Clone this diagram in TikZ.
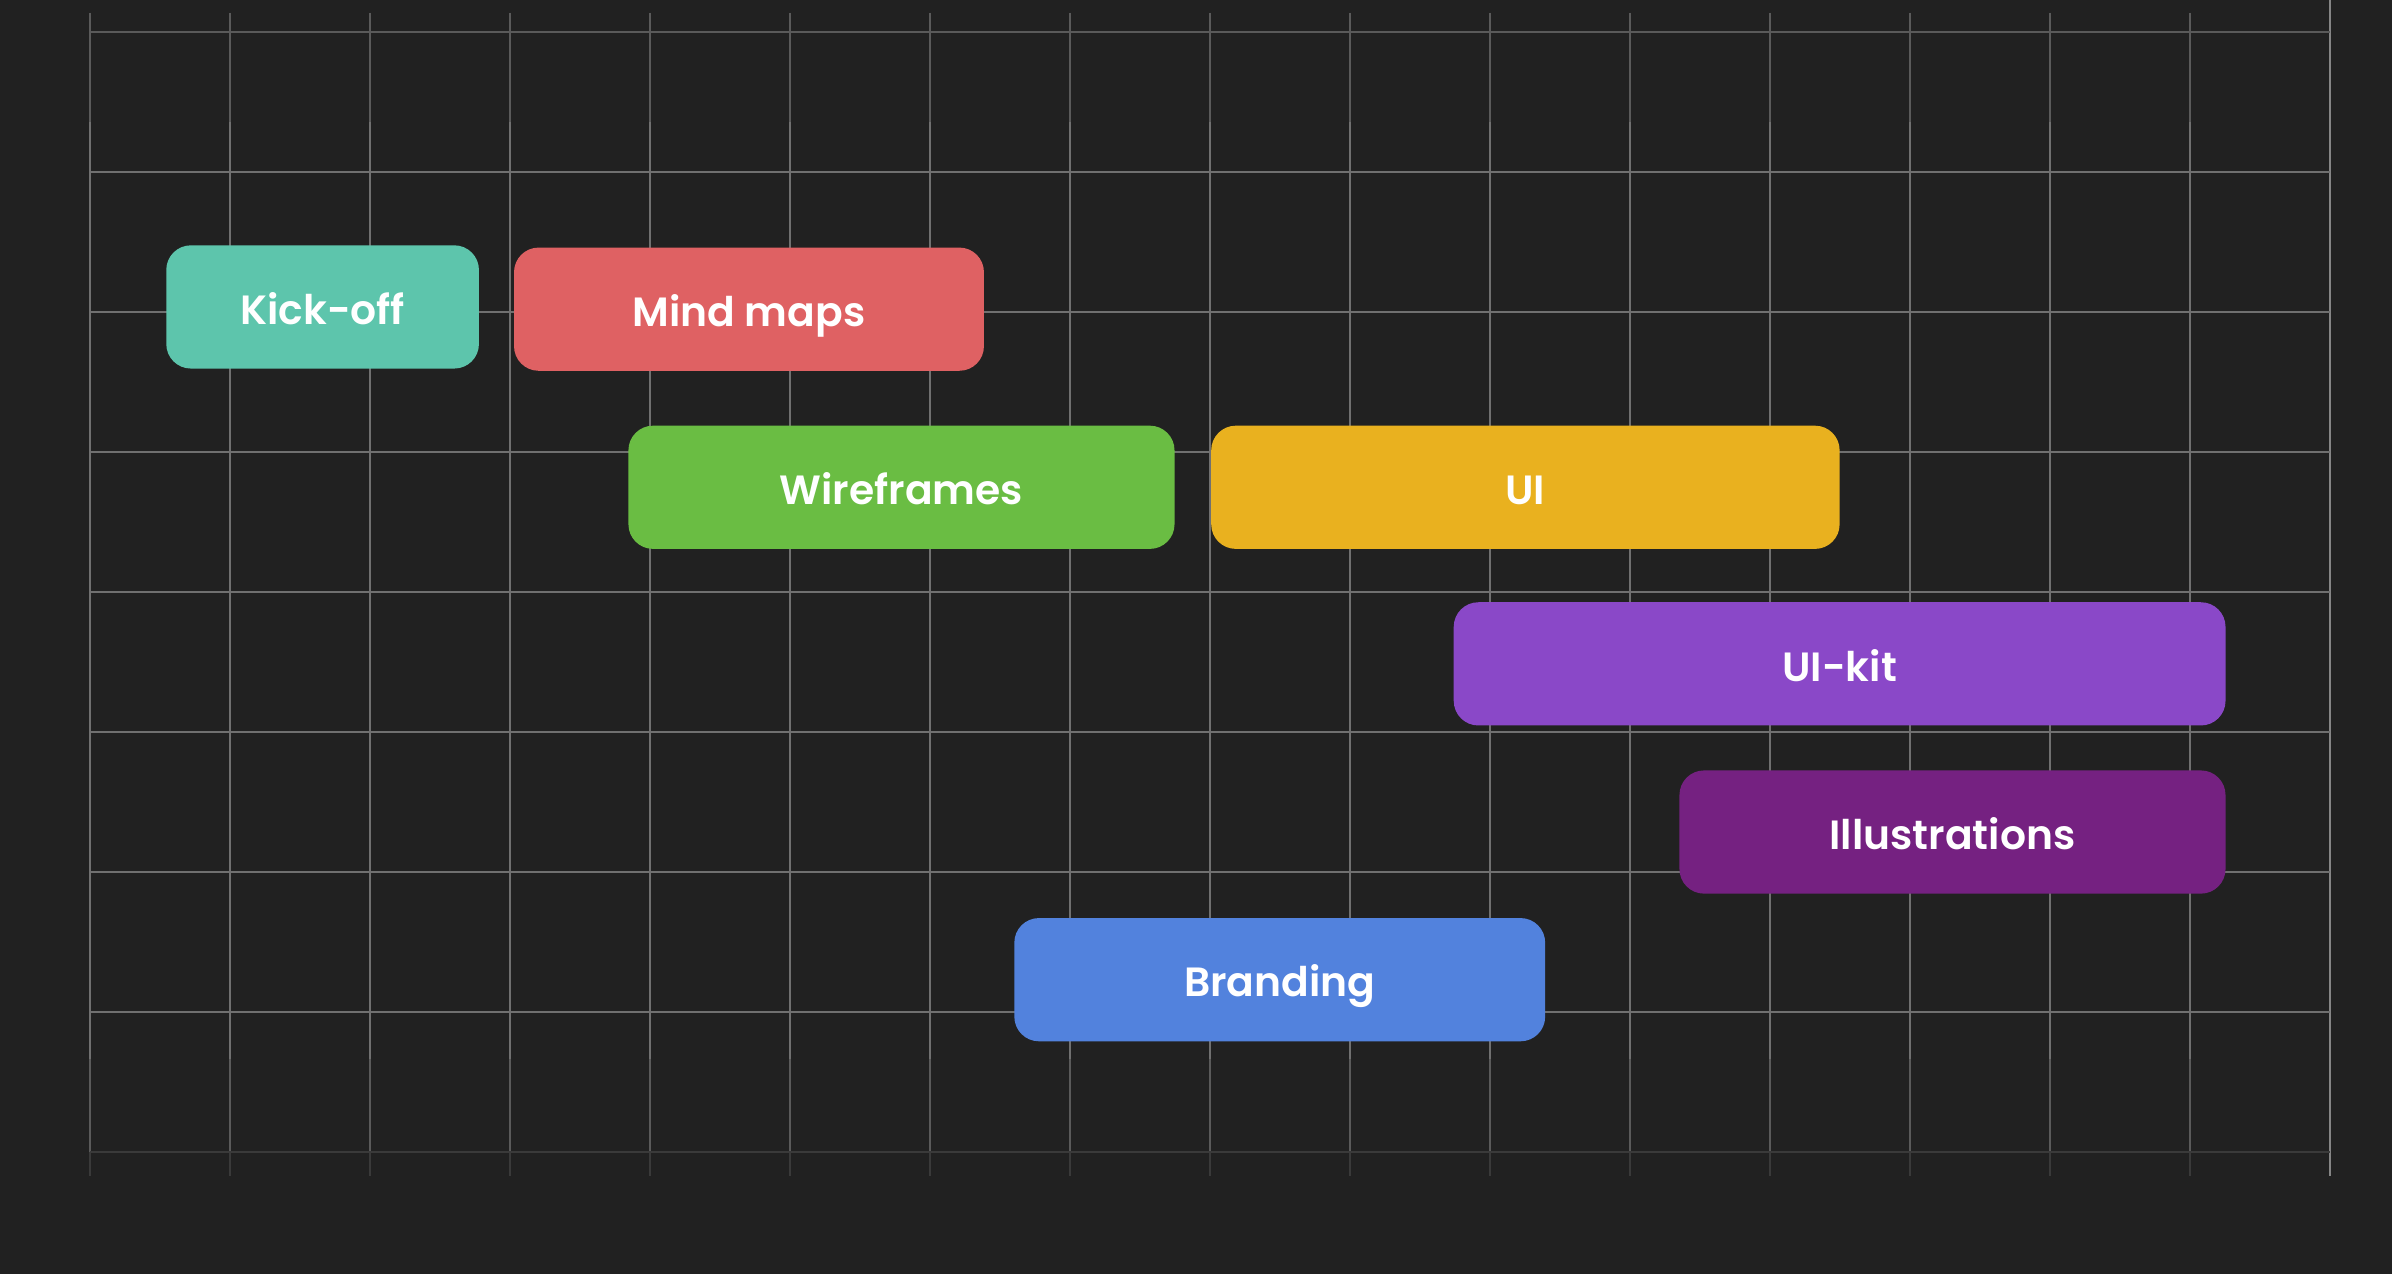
\documentclass[tikz,border=0pt]{standalone}
\usepackage{fontspec}
\setmainfont{Poppins}[BoldFont={Poppins SemiBold}]
\usepackage{tikz}
\usetikzlibrary{positioning}
\definecolor{BoardBg}{RGB}{33, 33, 33}
\definecolor{GridGray}{RGB}{112, 112, 112}
\definecolor{GridSoft}{RGB}{90, 90, 90}
\definecolor{GridFaint}{RGB}{58, 58, 58}
\definecolor{KickTeal}{RGB}{93, 197, 172}
\definecolor{MindRed}{RGB}{223, 97, 99}
\definecolor{WireGreen}{RGB}{106, 189, 67}
\definecolor{UiYellow}{RGB}{233, 177, 31}
\definecolor{KitPurple}{RGB}{138, 72, 200}
\definecolor{IllPlum}{RGB}{117, 33, 129}
\definecolor{BrandBlue}{RGB}{82, 130, 221}

\begin{document}
\begin{tikzpicture}[
    gridline/.style={draw=GridGray, line width=0.4pt},
    gridsoft/.style={draw=GridSoft, line width=0.4pt},
    gridfaint/.style={draw=GridFaint, line width=0.4pt},
    taskbar/.style={rectangle, rounded corners=5pt, minimum height=0.88cm, inner sep=0pt, text=white, text height=0.7em, text depth=0pt, font=\fontsize{8.3}{10}\selectfont\bfseries}
]

% Board
\fill[BoardBg] (-0.643, -0.868) rectangle (16.44, 8.23);
\useasboundingbox (-0.643, -0.868) rectangle (16.44, 8.23);

% Grid
\foreach \x in {0,...,15} {
    \draw[gridsoft] (\x, 8.14) -- (\x, 7.36);
    \draw[gridline] (\x, 7.36) -- (\x, 0.67);
    \draw[gridsoft] (\x, 0.67) -- (\x, 0);
    \draw[gridfaint] (\x, 0) -- (\x, -0.17);
}
\draw[gridline, draw=GridGray!85!white] (16, 8.23) -- (16, -0.17);
\foreach \y in {1,...,7}
    \draw[gridline] (0, \y) -- (16, \y);
\draw[gridsoft] (0, 8) -- (16, 8);
\draw[gridfaint] (0, 0) -- (16, 0);

% Tasks
\node[taskbar, fill=KickTeal, minimum width=2.233cm] (kickoff) at (1.661, 6.038) {Kick-off};
\node[taskbar, fill=MindRed, minimum width=3.356cm] (mindmaps) at (4.706, 6.022) {Mind maps};
\node[taskbar, fill=WireGreen, minimum width=3.9cm] (wireframes) at (5.795, 4.75) {Wireframes};
\node[taskbar, fill=UiYellow, minimum width=4.488cm] (ui) at (10.251, 4.75) {UI};
\node[taskbar, fill=KitPurple, minimum width=5.512cm] (uikit) at (12.495, 3.489) {UI-kit};
\node[taskbar, fill=IllPlum, minimum width=3.9cm] (illustrations) at (13.301, 2.288) {Illustrations};
\node[taskbar, fill=BrandBlue, minimum width=3.791cm] (branding) at (8.4965, 1.2335) {Branding};

\end{tikzpicture}
\end{document}
